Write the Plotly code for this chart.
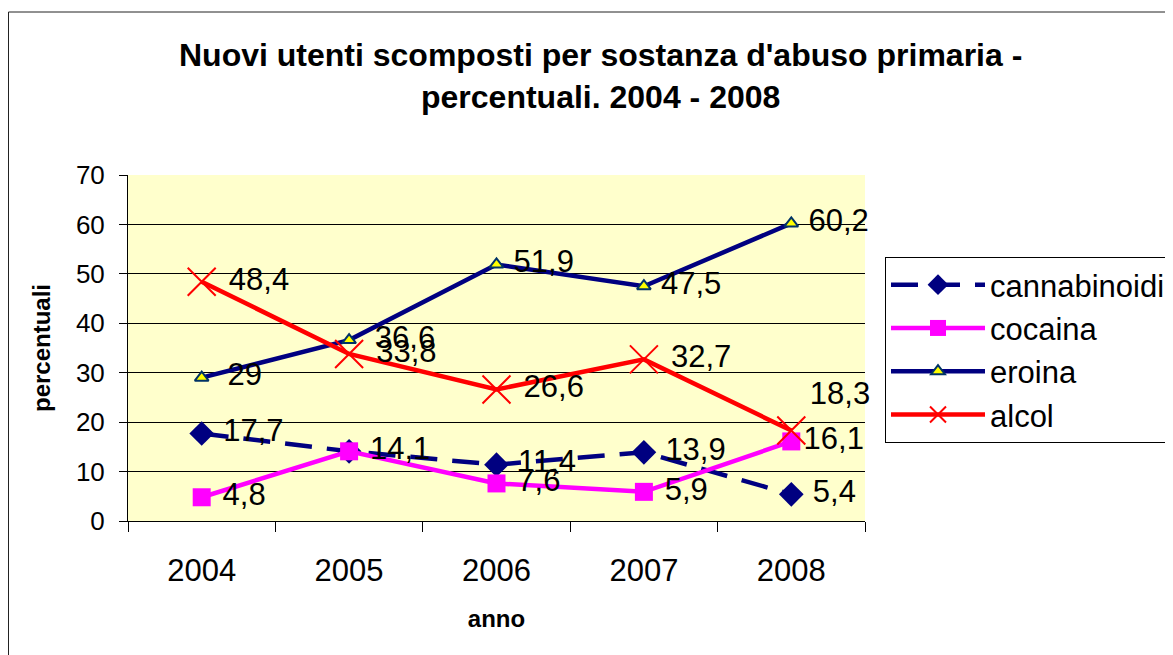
import plotly.graph_objects as go

years = ["2004", "2005", "2006", "2007", "2008"]
cannabinoidi = [17.7, 14.1, 11.4, 13.9, 5.4]
cocaina = [4.8, 14.1, 7.6, 5.9, 16.1]
eroina = [29, 36.6, 51.9, 47.5, 60.2]
alcol = [48.4, 33.8, 26.6, 32.7, 18.3]
y_ticks = [0, 10, 20, 30, 40, 50, 60, 70]

NB = "\u00a0"


def lab(vals, pads, skip_same_as=None):
    out = []
    for i, v in enumerate(vals):
        if skip_same_as is not None and skip_same_as[i] == v:
            out.append("")  # identical label drawn by the other series
        else:
            out.append(NB * pads[i] + f"{v:g}".replace(".", ","))
    return out


F = "Arial, Liberation Sans, sans-serif"
LF = dict(size=31, color="black", family=F)
MR = "middle right"
fig = go.Figure()
fig.add_trace(go.Scatter(
    x=years, y=cannabinoidi, name="cannabinoidi", mode="lines+markers+text",
    line=dict(color="#000080", width=4.5, dash="27px,15px"),
    marker=dict(symbol="diamond", size=19, color="#000080"),
    text=lab(cannabinoidi, [1, 1, 1, 1, 1], skip_same_as=cocaina), textposition=MR,
    textfont=LF, cliponaxis=False))
fig.add_trace(go.Scatter(
    x=years, y=cocaina, name="cocaina", mode="lines+markers+text",
    line=dict(color="#FF00FF", width=4.5),
    marker=dict(symbol="square", size=18, color="#FF00FF"),
    text=lab(cocaina, [1, 1, 1, 1, 0]), textposition=MR, textfont=LF, cliponaxis=False))
fig.add_trace(go.Scatter(
    x=years, y=eroina, name="eroina", mode="lines+markers+text",
    line=dict(color="#000080", width=4.5),
    marker=dict(symbol="triangle-up", size=12, color="#FFFF00",
                line=dict(color="#003366", width=2)),
    text=lab(eroina, [2, 2, 1, 1, 1]), textposition=MR, textfont=LF, cliponaxis=False))
fig.add_trace(go.Scatter(
    x=years, y=alcol, name="alcol", mode="lines+markers+text",
    line=dict(color="#FF0000", width=4.5),
    marker=dict(symbol="x-thin", size=28, color="#FF0000",
                line=dict(color="#FF0000", width=2)),
    text=lab(alcol, [1, 1, 1, 1, 0]), textposition=[MR, MR, MR, MR, "top right"],
    textfont=LF, cliponaxis=False))

# figure-pixel geometry (page is offset by the 8px body margin)
W, H = 1165, 647
L, R, T, B = 120, 857, 167, 513
pw, ph = R - L, B - T

fig.update_layout(
    width=W, height=H,
    margin=dict(l=L, r=W - R, t=T, b=H - B, autoexpand=False),
    paper_bgcolor="white", plot_bgcolor="#FFFFCC",
    font=dict(family=F, color="black"),
    showlegend=True,
    legend=dict(x=(877 - L) / pw, xanchor="left", y=(B - 249) / ph, yanchor="top",
                bgcolor="white", bordercolor="black", borderwidth=1,
                font=dict(size=31, family=F, color="black"),
                itemwidth=94, tracegroupgap=0),
    xaxis=dict(type="category", range=[-0.5, len(years) - 0.5],
               tickson="boundaries", ticks="outside", ticklen=10,
               tickcolor="black", showline=True, linecolor="black", linewidth=1,
               showgrid=False, tickfont=dict(size=31, family=F, color="black"),
               ticklabelstandoff=22,
               title=dict(text="<b>anno</b>", font=dict(size=24, family=F, color="black"),
                          standoff=22)),
    yaxis=dict(range=[0, 70], tickvals=y_ticks, ticks="outside", ticklen=8,
               tickcolor="black", showline=True, linecolor="black", linewidth=1,
               showgrid=True, gridcolor="black", gridwidth=1, zeroline=False,
               ticklabelstandoff=9,
               tickfont=dict(size=26, family=F, color="black"),
               title=dict(text="<b>percentuali</b>", font=dict(size=24, family=F, color="black"),
                          standoff=18)),
)

fig.add_annotation(
    text="<b>Nuovi utenti scomposti per sostanza d'abuso primaria -<br>percentuali. 2004 - 2008</b>",
    xref="paper", yref="paper", x=(592 - L) / pw, y=(B - 27) / ph,
    xanchor="center", yanchor="top", showarrow=False, align="center",
    font=dict(size=32, family=F, color="black"))

fig.add_shape(type="rect", xref="paper", yref="paper",
              x0=(0.5 - L) / pw, x1=(W + 20 - L) / pw,
              y0=(B - (H + 20)) / ph, y1=(B - 4) / ph,
              line=dict(color="#222222", width=1), fillcolor="rgba(0,0,0,0)", layer="below")

fig.write_html("out.html")
